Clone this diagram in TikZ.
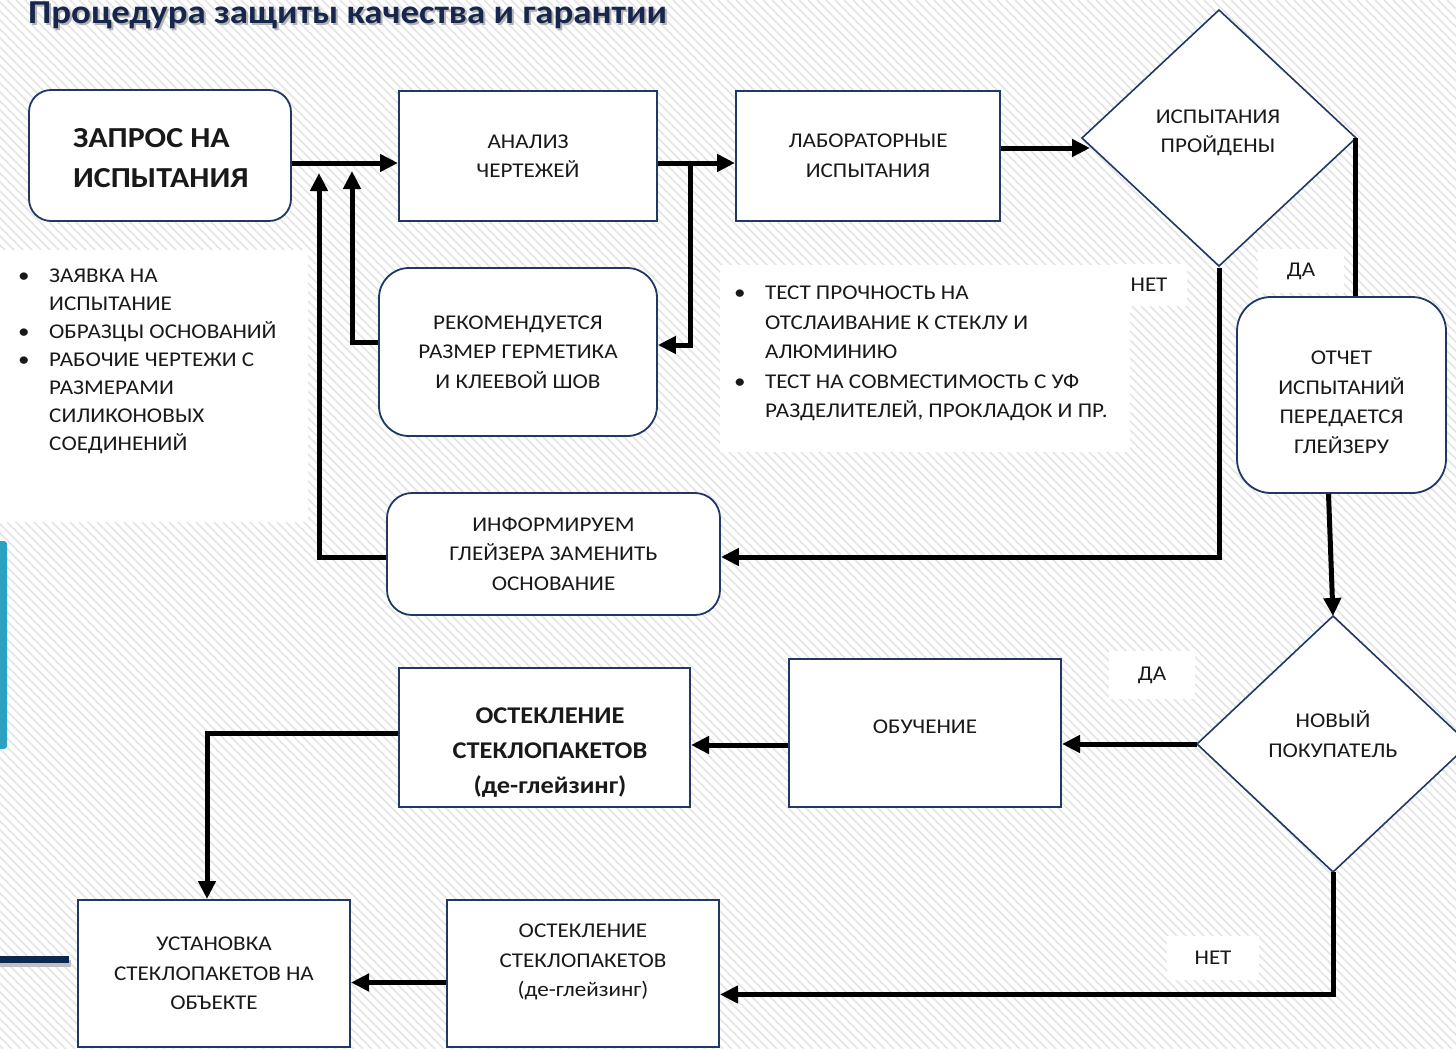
\documentclass[tikz,border=0pt]{standalone}
\usepackage{fontspec}
\setmainfont{Carlito}[FakeStretch=1.1]
\usetikzlibrary{shapes.geometric,arrows.meta}
\definecolor{navy}{RGB}{31,56,100}
\definecolor{titlec}{RGB}{22,38,76}
\definecolor{tealbar}{RGB}{43,163,192}
\definecolor{navybar}{RGB}{12,40,78}
\definecolor{txt}{RGB}{25,25,25}
\definecolor{hatch}{RGB}{229,229,229}
\newcommand{\bodyf}{\fontsize{21}{29.5}\selectfont}
\begin{document}
\begin{tikzpicture}[x=1pt,y=-1pt,
  box/.style={draw=navy, line width=2pt, fill=white, align=center, font=\bodyf, text=txt, inner sep=0pt},
  rbox/.style={box, line width=1.8pt},
  dia/.style={diamond, draw=navy, line width=1.6pt, fill=white, align=center, font=\bodyf, text=txt, inner sep=0pt, outer sep=0pt},
  txtn/.style={font=\bodyf, text=txt, align=center, inner sep=0pt},
  lbl/.style={fill=white, font=\bodyf, text=txt, inner sep=0pt},
  ln/.style={line width=5pt, draw=black},
  arr/.style={ln, -{Triangle[length=18pt,width=17pt]}},
  bul/.style={font=\bodyf, text=txt, align=left, inner sep=0pt, anchor=north west}
]
\useasboundingbox (0,0) rectangle (1456,1049);
\begin{scope}
\clip (0,0) rectangle (1456,1049);
\fill[white] (0,0) rectangle (1456,1049);
\foreach \i in {-1100,-1091,...,1460} \draw[hatch, line width=1.5pt] (\i,0) -- (\i+1049,1049);
% decorations on the left
\fill[tealbar, rounded corners=3pt] (-8,541) rectangle (7,749);
\fill[black!25] (0,960) rectangle (71,967);
\fill[navybar] (0,956) rectangle (69,963);
% white panels behind the lists
\fill[white] (0,250) rectangle (308,522);
\fill[white] (720,265) rectangle (1130,452);
% title
\node[anchor=base west, inner sep=0pt, font=\fontsize{33.5}{40}\selectfont\bfseries, text=black!30] at (30,26) {Процедура защиты качества и гарантии};
\node[anchor=base west, inner sep=0pt, font=\fontsize{33.5}{40}\selectfont\bfseries, text=titlec] (title) at (28,24) {Процедура защиты качества и гарантии};

% nodes
\node[rbox, rounded corners=22pt, minimum width=262pt, minimum height=131pt] (q) at (160,155.5) {};
\node[txtn, align=left, anchor=west, font=\fontsize{29}{40}\selectfont\bfseries] (qt) at (73,158) {ЗАПРОС НА\\ИСПЫТАНИЯ};
\node[box, minimum width=258pt, minimum height=130pt] (an) at (528,156) {АНАЛИЗ\\ЧЕРТЕЖЕЙ};
\node[box, minimum width=264pt, minimum height=130pt] (lab) at (868,156) {ЛАБОРАТОРНЫЕ\\ИСПЫТАНИЯ};
\node[dia, minimum width=274pt, minimum height=256pt] (d1) at (1219,138) {};
\node[txtn] (d1t) at (1218,133) {ИСПЫТАНИЯ\\ПРОЙДЕНЫ};
\node[rbox, rounded corners=30pt, minimum width=278pt, minimum height=168pt] (rec) at (518,352) {РЕКОМЕНДУЕТСЯ\\РАЗМЕР ГЕРМЕТИКА\\И КЛЕЕВОЙ ШОВ};
\node[rbox, rounded corners=34pt, minimum width=209pt, minimum height=196pt] (rep) at (1341.5,395) {};
\node[txtn] (rept) at (1341.5,402) {ОТЧЕТ\\ИСПЫТАНИЙ\\ПЕРЕДАЕТСЯ\\ГЛЕЙЗЕРУ};
\node[rbox, rounded corners=25pt, minimum width=333pt, minimum height=122pt] (inf) at (553.5,554) {ИНФОРМИРУЕМ\\ГЛЕЙЗЕРА ЗАМЕНИТЬ\\ОСНОВАНИЕ};
\node[dia, minimum width=272pt, minimum height=256pt] (d2) at (1333,744) {};
\node[txtn] (d2t) at (1333,734) {НОВЫЙ\\ПОКУПАТЕЛЬ};
\node[box, minimum width=272pt, minimum height=148pt] (edu) at (925,733) {};
\node[txtn] (edut) at (925,727) {ОБУЧЕНИЕ};
\node[box, minimum width=291pt, minimum height=139pt] (deg1) at (544.5,737.5) {};
\node[txtn, font=\fontsize{24}{35}\selectfont\bfseries] (deg1t) at (550,753) {ОСТЕКЛЕНИЕ\\СТЕКЛОПАКЕТОВ\\(де-глейзинг)};
\node[box, minimum width=272pt, minimum height=147pt] (inst) at (214,973.5) {УСТАНОВКА\\СТЕКЛОПАКЕТОВ НА\\ОБЪЕКТЕ};
\node[box, minimum width=272pt, minimum height=147pt] (deg2) at (583,973.5) {};
\node[txtn] (deg2t) at (583,962) {ОСТЕКЛЕНИЕ\\СТЕКЛОПАКЕТОВ\\(де-глейзинг)};

% bullet lists
\node[bul] (list1) at (18,262) {%
\begin{tabular}{@{}p{31pt}@{}l@{}}
\textbullet & ЗАЯВКА НА\\[-1.5pt]
 & ИСПЫТАНИЕ\\[-1.5pt]
\textbullet & ОБРАЗЦЫ ОСНОВАНИЙ\\[-1.5pt]
\textbullet & РАБОЧИЕ ЧЕРТЕЖИ С\\[-1.5pt]
 & РАЗМЕРАМИ\\[-1.5pt]
 & СИЛИКОНОВЫХ\\[-1.5pt]
 & СОЕДИНЕНИЙ
\end{tabular}};
\node[bul] (list2) at (734,279) {%
\begin{tabular}{@{}p{31pt}@{}l@{}}
\textbullet & ТЕСТ ПРОЧНОСТЬ НА\\
 & ОТСЛАИВАНИЕ К СТЕКЛУ И\\
 & АЛЮМИНИЮ\\
\textbullet & ТЕСТ НА СОВМЕСТИМОСТЬ С УФ\\
 & РАЗДЕЛИТЕЛЕЙ, ПРОКЛАДОК И ПР.
\end{tabular}};

% labels
\node[lbl, minimum width=76pt, minimum height=42pt] (no1) at (1149,285) {НЕТ};
\node[lbl, minimum width=86pt, minimum height=44pt] (yes1) at (1301,271) {ДА};
\node[lbl, minimum width=86pt, minimum height=48pt] (yes2) at (1152,675) {ДА};
\node[lbl, minimum width=92pt, minimum height=44pt] (no2) at (1213,958) {НЕТ};

% junction / free-end coordinates
\coordinate (j1) at (690,163);
\coordinate (t1) at (352,171);
\coordinate (t2) at (319,173);
\coordinate (t3) at (1090,148);

% connectors
\draw[arr] ([yshift=-7.5pt]q.east) -- ([yshift=-7pt]an.west);
\draw[arr] ([yshift=-7pt]an.east) -- ([yshift=-7pt]lab.west);
\draw[arr] (lab.east |- t3) -- (t3);
\draw[arr] (j1) |- ([yshift=7pt]rec.east);
\draw[arr] ([yshift=10pt]rec.west) -| (t1);
\draw[arr] ([yshift=-3pt]inf.west) -| (t2);
\draw[arr] ([yshift=-2pt]d1.south) |- ([yshift=-3pt]inf.east);
\draw[ln] ([xshift=-1pt]d1.east) -- ([xshift=-1pt]d1.east |- rep.north);
\draw[arr] ([xshift=-13pt]rep.south) -- (d2.north);
\draw[arr] (d2.west) -- (d2.west -| edu.east);
\draw[arr] ([yshift=-12pt]edu.west) -- ([yshift=-7.5pt]deg1.east);
\draw[arr] ([yshift=4.5pt]deg1.west) -| ([xshift=-7pt]inst.north);
\draw[arr] (d2.south) |- ([yshift=-21pt]deg2.east);
\draw[arr] ([yshift=-9pt]deg2.west) -- ([yshift=-9pt]inst.east);
\end{scope}
\end{tikzpicture}
\end{document}
